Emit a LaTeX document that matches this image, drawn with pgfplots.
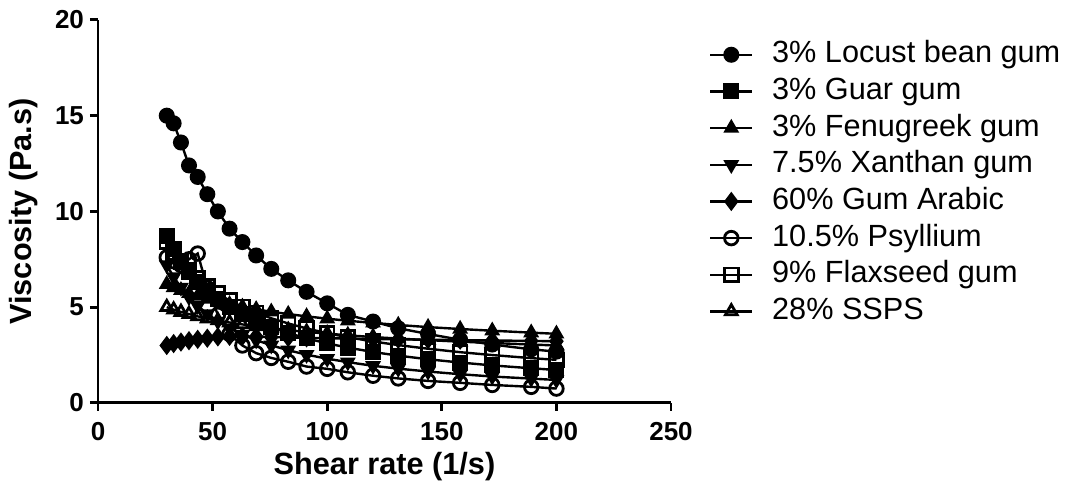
\documentclass[border=0pt]{standalone}
\usepackage{fontspec}
\setmainfont{Liberation Sans}
\usepackage{pgfplots}
\pgfplotsset{compat=1.18}

\begin{document}
\begin{tikzpicture}
\begin{axis}[
  scale only axis,
  width=429.75pt, height=287.25pt,
  xmin=0, xmax=250, ymin=0, ymax=20,
  xtick={0,50,100,150,200,250}, ytick={0,5,10,15,20},
  axis lines=left, axis line style={line width=2.2pt, -},
  tick style={line width=2.2pt, black},
  tick align=outside, major tick length=6pt,
  /pgf/number format/assume math mode=true,
  tick label style={font=\fontsize{19.5}{22}\selectfont\bfseries},
  xticklabel style={yshift=-5pt},
  yticklabel style={xshift=-1pt},
  xlabel={Shear rate (1/s)}, ylabel={Viscosity (Pa.s)},
  label style={font=\fontsize{23}{26}\selectfont\bfseries},
  xlabel style={at={(rel axis cs:0.5,-0.167)}, anchor=center},
  ylabel style={at={(rel axis cs:-0.129,0.5)}, anchor=center},
  every axis plot/.append style={black, line width=1.8pt, mark size=5.1pt},
  clip=false,
  legend cell align=left,
  legend style={draw=none, fill=none, at={(1.059,0.955)}, anchor=north west,
    font=\fontsize{23}{26}\selectfont, row sep=5.5pt,
    nodes={inner sep=0pt, text height=17pt, text depth=5pt},
    /tikz/every odd column/.append style={column sep=14pt}},
  legend image code/.code={
    \draw (0pt,0pt) -- (31.5pt,0pt);
    \draw plot coordinates {(15.75pt,0pt)};},
]
% 3% Locust bean gum
\addplot[mark=*] coordinates {(30,15.0) (33,14.6) (36.2,13.6) (39.7,12.4) (43.5,11.8) (47.7,10.9) (52.3,10.0) (57.4,9.1) (63,8.4) (69,7.7) (75.6,7.0) (83,6.4) (91,5.8) (100,5.2) (109,4.6) (120,4.25) (131,3.9) (144,3.6) (158,3.3) (172,3.05) (189,2.8) (200,2.68)};
\addlegendentry{3\% Locust bean gum}
% 3% Guar gum
\addplot[mark=square*] coordinates {(30,8.70) (33,8.02) (36.2,7.41) (39.7,6.85) (43.5,6.33) (47.7,5.86) (52.3,5.41) (57.4,5.00) (63,4.62) (69,4.27) (75.6,3.95) (83,3.65) (91,3.37) (100,3.11) (109,2.89) (120,2.66) (131,2.47) (144,2.28) (158,2.11) (172,1.96) (189,1.81) (200,1.72)};
\addlegendentry{3\% Guar gum}
% 3% Fenugreek gum
\addplot[mark=triangle*] coordinates {(30,6.20) (33,6.03) (36.2,5.88) (39.7,5.72) (43.5,5.58) (47.7,5.43) (52.3,5.29) (57.4,5.15) (63,5.02) (69,4.89) (75.6,4.76) (83,4.64) (91,4.52) (100,4.40) (109,4.29) (120,4.18) (131,4.07) (144,3.96) (158,3.86) (172,3.77) (189,3.67) (200,3.61)};
\addlegendentry{3\% Fenugreek gum}
% 7.5% Xanthan gum
\addplot[mark=triangle*, mark options={rotate=180}] coordinates {(30,7.20) (33,6.58) (36.2,6.03) (39.7,5.53) (43.5,5.07) (47.7,4.65) (52.3,4.26) (57.4,3.90) (63,3.57) (69,3.28) (75.6,3.01) (83,2.75) (91,2.52) (100,2.31) (109,2.13) (120,1.94) (131,1.79) (144,1.64) (158,1.50) (172,1.38) (189,1.27) (200,1.20)};
\addlegendentry{7.5\% Xanthan gum}
% 60% Gum Arabic
\addplot[mark=diamond*, mark size=5.8pt] coordinates {(30,3.00) (33,3.10) (36.2,3.18) (39.7,3.25) (43.5,3.32) (47.7,3.38) (52.3,3.45) (57.4,3.48) (63,3.48) (69,3.46) (75.6,3.44) (83,3.42) (91,3.40) (100,3.38) (109,3.36) (120,3.34) (131,3.32) (144,3.30) (158,3.28) (172,3.26) (189,3.24) (200,3.22)};
\addlegendentry{60\% Gum Arabic}
% 10.5% Psyllium
\addplot[mark=o, mark options={line width=2.1pt}] coordinates {(30,7.6) (33,7.4) (36.2,7.2) (39.7,7.5) (43.5,7.8) (47.7,6.0) (52.3,4.6) (57.4,3.6) (63,3.0) (69,2.6) (75.6,2.35) (83,2.15) (91,1.9) (100,1.78) (109,1.6) (120,1.42) (131,1.28) (144,1.15) (158,1.05) (172,0.94) (189,0.84) (200,0.75)};
\addlegendentry{10.5\% Psyllium}
% 9% Flaxseed gum
\addplot[mark=square, mark options={line width=2.1pt}] coordinates {(30,8.40) (33,7.86) (36.2,7.37) (39.7,6.92) (43.5,6.49) (47.7,6.09) (52.3,5.71) (57.4,5.35) (63,5.02) (69,4.71) (75.6,4.42) (83,4.15) (91,3.89) (100,3.64) (109,3.43) (120,3.21) (131,3.02) (144,2.83) (158,2.65) (172,2.50) (189,2.34) (200,2.25)};
\addlegendentry{9\% Flaxseed gum}
% 28% SSPS
\addplot[mark=triangle, mark options={line width=2.1pt}] coordinates {(30,5.00) (33,4.87) (36.2,4.75) (39.7,4.64) (43.5,4.52) (47.7,4.41) (52.3,4.31) (57.4,4.20) (63,4.10) (69,4.00) (75.6,3.90) (83,3.80) (91,3.71) (100,3.62) (109,3.53) (120,3.44) (131,3.36) (144,3.28) (158,3.20) (172,3.13) (189,3.05) (200,3.00)};
\addlegendentry{28\% SSPS}
\coordinate (bbsw) at (rel axis cs:-0.171,-0.235);
\coordinate (bbne) at (rel axis cs:1.705,1.052);
\end{axis}
\pgfresetboundingbox
\useasboundingbox (bbsw) rectangle (bbne);
\end{tikzpicture}
\end{document}
